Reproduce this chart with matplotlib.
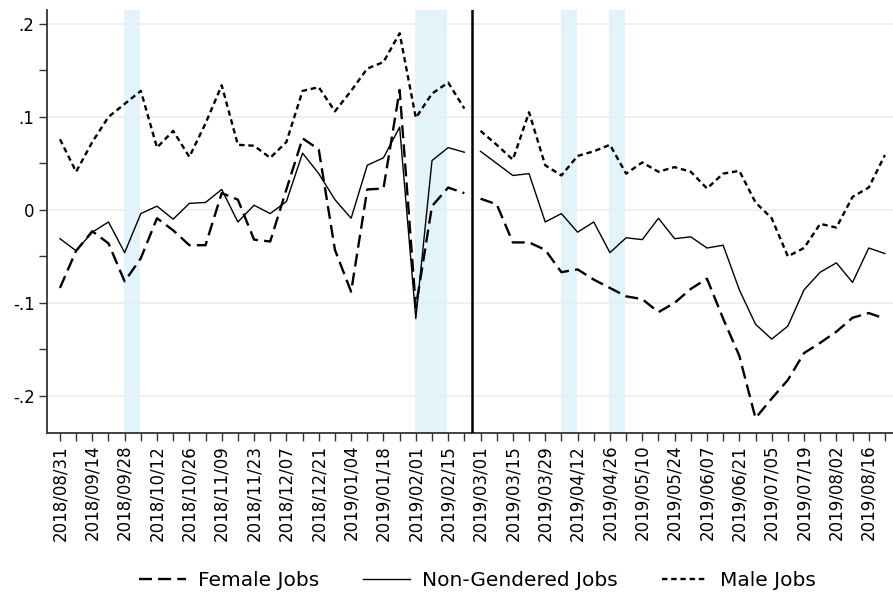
import numpy as np
import matplotlib
matplotlib.use("Agg")
import matplotlib.pyplot as plt

# weekly points, 2018/08/31 .. 2019/08/23 (index = week number)
female = [-0.084, -0.044, -0.023, -0.036, -0.077, -0.052, -0.009, -0.022, -0.038, -0.038,
          0.018, 0.011, -0.032, -0.034, 0.022, 0.077, 0.065, -0.043, -0.088, 0.022,
          0.023, 0.129, -0.105, 0.004, 0.024, 0.018,
          0.012, 0.006, -0.035, -0.035, -0.043, -0.067, -0.064, -0.075, -0.084, -0.093,
          -0.096, -0.110, -0.100, -0.085, -0.074, -0.117, -0.157, -0.224, -0.203, -0.183,
          -0.154, -0.143, -0.131, -0.116, -0.111, -0.117]
nongender = [-0.031, -0.044, -0.024, -0.013, -0.046, -0.004, 0.004, -0.010, 0.007, 0.008,
             0.022, -0.013, 0.005, -0.004, 0.009, 0.061, 0.039, 0.011, -0.009, 0.048,
             0.056, 0.089, -0.117, 0.053, 0.067, 0.062,
             0.063, 0.050, 0.037, 0.039, -0.013, -0.004, -0.024, -0.013, -0.046, -0.030,
             -0.032, -0.009, -0.031, -0.029, -0.041, -0.038, -0.086, -0.123, -0.139, -0.125,
             -0.086, -0.067, -0.057, -0.078, -0.041, -0.047]
male = [0.076, 0.041, 0.073, 0.100, 0.114, 0.128, 0.067, 0.085, 0.057, 0.093,
        0.134, 0.070, 0.069, 0.056, 0.073, 0.128, 0.132, 0.106, 0.128, 0.152,
        0.159, 0.190, 0.099, 0.125, 0.137, 0.109,
        0.085, 0.070, 0.054, 0.105, 0.048, 0.037, 0.058, 0.063, 0.070, 0.039,
        0.051, 0.041, 0.046, 0.041, 0.023, 0.039, 0.042, 0.008, -0.009, -0.050,
        -0.041, -0.015, -0.019, 0.014, 0.024, 0.059]

tick_labels = ["2018/08/31", "2018/09/14", "2018/09/28", "2018/10/12", "2018/10/26",
               "2018/11/09", "2018/11/23", "2018/12/07", "2018/12/21", "2019/01/04",
               "2019/01/18", "2019/02/01", "2019/02/15", "2019/03/01", "2019/03/15",
               "2019/03/29", "2019/04/12", "2019/04/26", "2019/05/10", "2019/05/24",
               "2019/06/07", "2019/06/21", "2019/07/05", "2019/07/19", "2019/08/02",
               "2019/08/16"]
shaded_weeks = [(4, 5), (22, 24), (31, 32), (34, 35)]
break_week = 26  # first week after the vertical line

weeks = np.arange(len(female))

fig = plt.figure(figsize=(8.93, 5.95), dpi=100)
ax = fig.add_axes([47 / 893, 162 / 595, 846 / 893, 423 / 595])

for a, b in shaded_weeks:
    ax.axvspan(a - 0.05, b - 0.05, color="#e2f3f9", lw=0, zorder=0)

for y in [-0.2, -0.1, 0, 0.1, 0.2]:
    ax.axhline(y, color="#ececec", lw=1.2, zorder=0.5)

ax.axvline(break_week - 0.5, color="black", lw=1.8, zorder=3)

styles = [
    (female, "Female Jobs", dict(lw=1.7, dashes=(5.5, 2.6))),
    (nongender, "Non-Gendered Jobs", dict(lw=1.0)),
    (male, "Male Jobs", dict(lw=1.7, dashes=(2.3, 1.6))),
]
handles = []
for vals, name, kw in styles:
    vals = np.array(vals)
    ln, = ax.plot(weeks[:break_week], vals[:break_week], color="black", label=name, zorder=2, **kw)
    ax.plot(weeks[break_week:], vals[break_week:], color="black", zorder=2, **kw)
    handles.append(ln)

ax.set_xlim(-0.8, 51.5)
ax.set_ylim(-0.24, 0.215)

ax.set_xticks(np.arange(0, 52, 2))
ax.set_xticklabels(tick_labels, rotation=90, fontsize=12)
ax.set_xticks(weeks, minor=True)
ax.set_yticks([-0.2, -0.1, 0, 0.1, 0.2])
ax.set_yticklabels(["-.2", "-.1", "0", ".1", ".2"], fontsize=12)
ax.set_yticks([-0.15, -0.05, 0.05, 0.15], minor=True)
ax.tick_params(axis="both", which="both", length=5.5, width=1, color="#333333")
ax.tick_params(axis="x", which="major", pad=3)

for s in ["top", "right"]:
    ax.spines[s].set_visible(False)
for s in ["left", "bottom"]:
    ax.spines[s].set_linewidth(1.3)
    ax.spines[s].set_color("#333333")

fig.legend(handles=handles, loc="center", bbox_to_anchor=(0.535, 0.025), ncol=3,
           frameon=False, fontsize=14.5, handlelength=2.3, columnspacing=2.2,
           handletextpad=0.6)

fig.savefig("out.png", dpi=100)
